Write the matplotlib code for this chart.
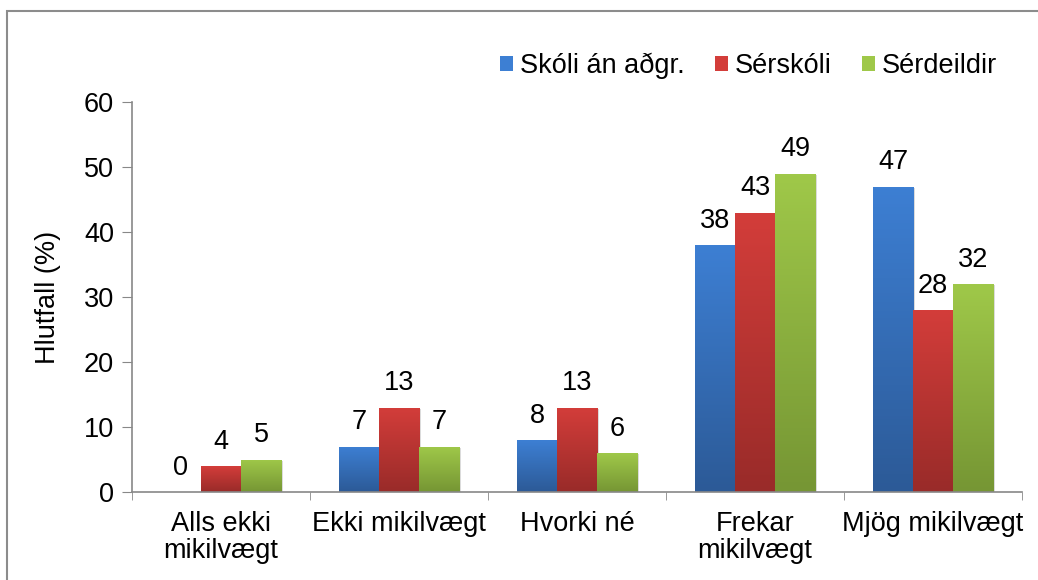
import numpy as np
import matplotlib
matplotlib.use("Agg")
import matplotlib.pyplot as plt
import matplotlib.patheffects as pe
from matplotlib.colors import LinearSegmentedColormap
from matplotlib.patches import Patch, Rectangle

plt.rcParams['font.family'] = ['Liberation Sans', 'DejaVu Sans']

categories = ["Alls ekki\nmikilvægt", "Ekki mikilvægt", "Hvorki né", "Frekar\nmikilvægt", "Mjög mikilvægt"]
series_names = ["Skóli án aðgr.", "Sérskóli", "Sérdeildir"]
skoli = [0, 7, 8, 38, 47]
serskoli = [4, 13, 13, 43, 28]
serdeildir = [5, 7, 6, 49, 32]
values = [skoli, serskoli, serdeildir]

# top / bottom gradient colours
grad = [("#3d7fd3", "#2c5a97"),
        ("#d33d3a", "#992b29"),
        ("#9fc849", "#769634")]

fig = plt.figure(figsize=(10.38, 5.8), dpi=100)
ax = fig.add_axes([132 / 1038, 88 / 580, 890 / 1038, 390 / 580])

# figure border
fig.patches.append(Rectangle((7 / 1038, -0.1), 1.2, 1 - 11 / 580 + 0.1, transform=fig.transFigure,
                             fill=False, edgecolor="#8c8c8c", linewidth=1.5))

x = np.arange(len(categories))
w = 0.225
fs = 19.5
shadow = [pe.SimplePatchShadow(offset=(1.5, -1), shadow_rgbFace="#999999", alpha=0.35), pe.Normal()]

for i, (vals, (top, bot)) in enumerate(zip(values, grad)):
    pos = x + (i - 1) * w
    bars = ax.bar(pos, vals, w, color=top, linewidth=0, label=series_names[i])
    cmap = LinearSegmentedColormap.from_list("g%d" % i, [bot, top])
    for b, v in zip(bars, vals):
        bx, by, bw, bh = b.get_x(), b.get_y(), b.get_width(), b.get_height()
        if v > 0:
            b.set_path_effects(shadow)
            im = ax.imshow(np.linspace(0, 1, 100).reshape(-1, 1), cmap=cmap, origin="lower",
                           extent=[bx, bx + bw, by, by + bh], aspect="auto", zorder=b.get_zorder() + 0.1)
            im.set_clip_path(b)
        ax.annotate(str(v), (bx + bw / 2, bh), xytext=(0, 8), textcoords="offset points",
                    ha="center", va="bottom", fontsize=fs)

ax.set_xlim(-0.5, len(categories) - 0.5)
ax.set_ylim(0, 60)
ax.set_yticks(range(0, 61, 10))
ax.set_xticks(x)
ax.set_xticklabels(categories, fontsize=fs, linespacing=1.05)
ax.set_xticks(np.arange(-0.5, len(categories), 1), minor=True)
ax.tick_params(axis="x", which="major", length=0, pad=14)
ax.tick_params(axis="x", which="minor", length=6, color="#888888", direction="out")
ax.tick_params(axis="y", length=7, color="#888888", labelsize=fs, pad=6)
ax.set_ylabel("Hlutfall (%)", fontsize=fs, labelpad=16)

for s in ["top", "right"]:
    ax.spines[s].set_visible(False)
for s in ["left", "bottom"]:
    ax.spines[s].set_color("#888888")
    ax.spines[s].set_linewidth(1.2)

handles = [Patch(facecolor=c[0], label=n) for c, n in zip(grad, series_names)]
fig.legend(handles=handles, loc="center right", bbox_to_anchor=(1008 / 1038, 1 - 66 / 580),
           ncol=3, frameon=False, fontsize=fs, handlelength=0.5, handleheight=0.5,
           handletextpad=0.25, columnspacing=1.1, borderaxespad=0)

fig.savefig("out.png", dpi=100)
